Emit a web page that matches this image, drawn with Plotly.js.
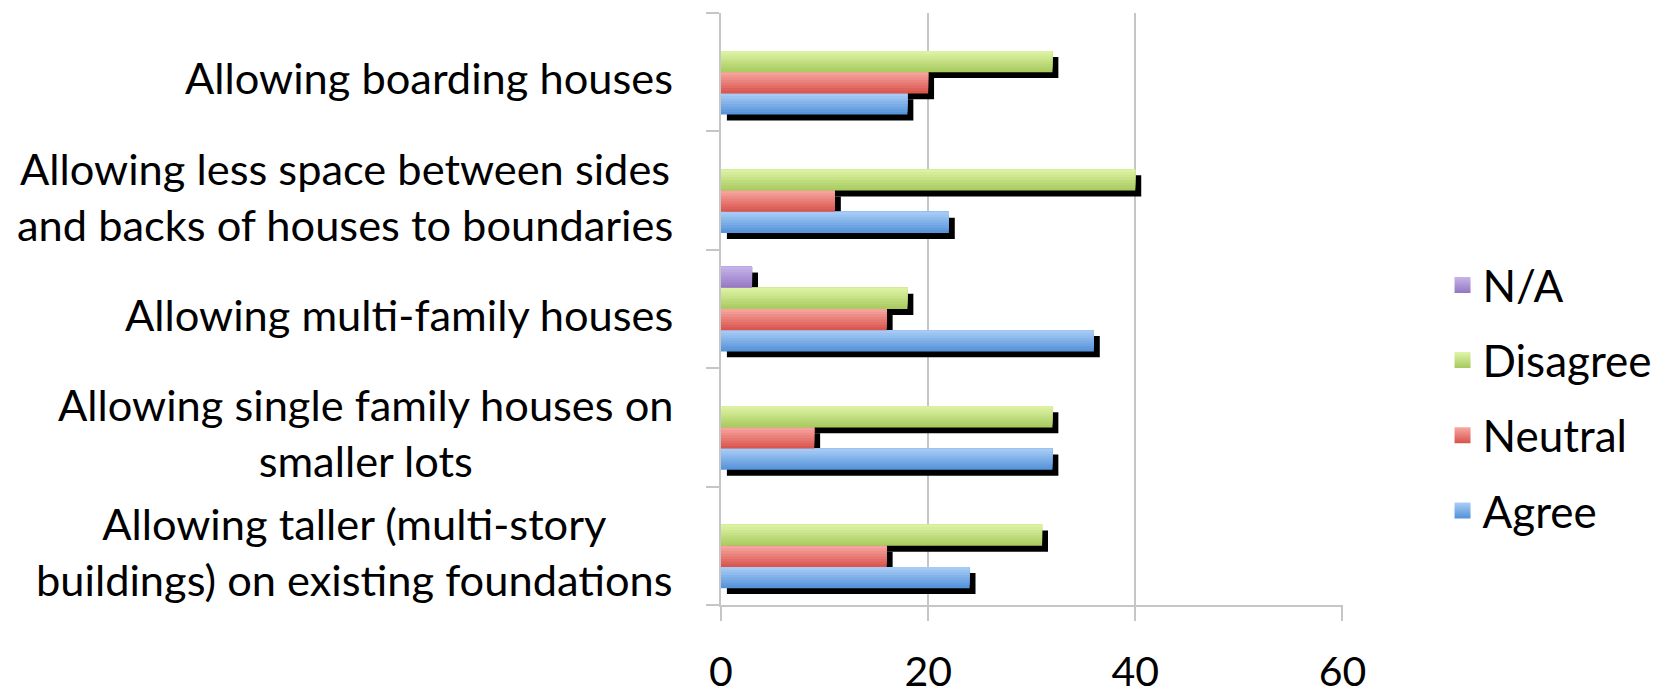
<!DOCTYPE html>
<html><head><meta charset="utf-8">
<script src="https://cdn.plot.ly/plotly-3.0.1.min.js"></script>
<style>html,body{margin:0;padding:0;background:#fff}#chart{width:1669px;height:699px}</style>
</head><body><div id="chart"></div>
<script>
// ---- data ----
const categories = [
  "Allowing taller (multi-story<br>buildings) on existing foundations",
  "Allowing single family houses on<br>smaller lots",
  "Allowing multi-family houses",
  "Allowing less space between sides<br>and backs of houses to boundaries",
  "Allowing boarding houses"
];
const seriesNames = ["Agree", "Neutral", "Disagree", "N/A"];
const agree = [24, 32, 36, 22, 18];
const neutral = [16, 9, 16, 11, 20];
const disagree = [31, 32, 18, 40, 32];
const notApplicable = [null, null, 3, null, null];
const xTickValues = [0, 20, 40, 60];

// ---- styles ----
const topColors = [[170, 206, 247], [248, 168, 163], [224, 245, 168], [199, 181, 233]];
const bottomColors = [[83, 145, 216], [216, 82, 74], [166, 201, 92], [148, 118, 196]];
const FONT = "Lato, 'Open Sans', sans-serif";
const slot = 0.179, stripes = 8, shadowDx = 0.57, shadowDy = 0.05;
const rgb = c => `rgb(${c.join(',')})`;
const mix = (a, b, t) => a.map((v, k) => Math.round(v + (b[k] - v) * t));

const seriesValues = [agree, neutral, disagree, notApplicable];
const traces = [];
// drop shadows
seriesValues.forEach((vals, i) => {
  traces.push({
    type: 'bar', orientation: 'h', y: categories, x: vals,
    base: shadowDx, offset: -2 * slot + i * slot - shadowDy, width: slot,
    marker: {color: '#000', line: {width: 0}},
    showlegend: false, hoverinfo: 'skip'
  });
});
// gradient bars: nested bands, each reaching the top of its slot
seriesValues.forEach((vals, i) => {
  for (let j = 0; j < stripes; j++) {
    const t = (j + 0.5) / stripes;
    traces.push({
      type: 'bar', orientation: 'h', y: categories, x: vals,
      offset: -2 * slot + i * slot + j * slot / stripes,
      width: slot - j * slot / stripes,
      marker: {color: rgb(mix(bottomColors[i], topColors[i], t)), line: {width: 0}},
      name: seriesNames[i], showlegend: false, hoverinfo: 'x+name'
    });
  }
});
// legend entries
seriesValues.forEach((vals, i) => {
  traces.push({
    type: 'scatter', mode: 'markers', x: [null], y: [null],
    name: seriesNames[i], legendgroup: 'g' + i, legendrank: 4 - i,
    marker: {symbol: 'square', size: 16, color: rgb(topColors[i]),
             gradient: {type: 'vertical', color: rgb(bottomColors[i])}, line: {width: 0}}
  });
});

const annotations = categories.map(c => ({
  xref: 'paper', yref: 'y', x: 0, y: c, xanchor: 'right', yanchor: 'middle',
  xshift: -46, yshift: -5, text: c, showarrow: false, align: 'center',
  font: {family: FONT, size: 43.4, color: '#000'}
}));

const layout = {
  width: 1669, height: 699,
  margin: {l: 721, r: 318, t: 13, b: 94, pad: 0},
  paper_bgcolor: '#fff', plot_bgcolor: '#fff',
  barmode: 'overlay',
  font: {family: FONT, size: 44, color: '#000'},
  xaxis: {
    range: [0, 60.05], tickvals: xTickValues, ticktext: xTickValues.map(String),
    showgrid: true, gridcolor: '#c6c6c6', gridwidth: 2,
    showline: true, linecolor: '#c6c6c6', linewidth: 2, zeroline: false,
    ticks: 'outside', ticklen: 14, tickcolor: '#c6c6c6', tickwidth: 2,
    ticklabelstandoff: 16,
    tickfont: {family: FONT, size: 41, color: '#000'}, fixedrange: true
  },
  yaxis: {
    type: 'category', categoryorder: 'array', categoryarray: categories,
    range: [-0.5, 4.5], showticklabels: false, tickson: 'boundaries',
    ticks: 'outside', ticklen: 13, tickcolor: '#c6c6c6', tickwidth: 2,
    showgrid: false, showline: true, linecolor: '#c6c6c6', linewidth: 2,
    zeroline: false, fixedrange: true
  },
  legend: {
    x: 1.16, xanchor: 'left', y: 0.35, yanchor: 'middle',
    traceorder: 'grouped', tracegroupgap: 15, itemsizing: 'trace',
    font: {family: FONT, size: 44, color: '#000'},
    bgcolor: 'rgba(0,0,0,0)'
  },
  annotations: annotations,
  showlegend: true
};

Plotly.newPlot('chart', traces, layout, {displayModeBar: false, staticPlot: true});
</script>
</body></html>
